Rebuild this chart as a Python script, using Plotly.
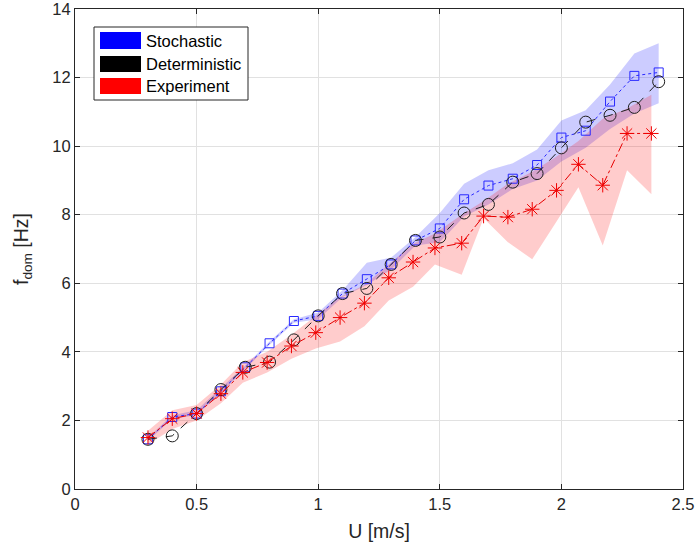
import plotly.graph_objects as go

# ---------------- data ----------------
u_model = [0.3, 0.4, 0.5, 0.6, 0.7, 0.8, 0.9, 1.0, 1.1, 1.2, 1.3, 1.4, 1.5, 1.6, 1.7, 1.8, 1.9, 2.0, 2.1, 2.2, 2.3, 2.4]
stoch_mean = [1.45, 2.1, 2.2, 2.85, 3.55, 4.25, 4.9, 5.05, 5.7, 6.12, 6.55, 7.25, 7.6, 8.45, 8.85, 9.05, 9.45, 10.25, 10.45, 11.3, 12.05, 12.15]
stoch_upper = [1.5, 2.15, 2.3, 2.95, 3.6, 4.3, 4.95, 5.15, 5.8, 6.6, 6.75, 7.35, 8.05, 8.9, 9.3, 9.5, 9.9, 10.75, 11.05, 11.8, 12.7, 13.0]
stoch_lower = [1.4, 2.05, 2.15, 2.8, 3.5, 4.2, 4.85, 4.95, 5.6, 5.95, 6.4, 7.1, 7.2, 7.95, 8.3, 8.75, 9.0, 9.55, 9.95, 10.5, 10.95, 11.25]
determ = [1.45, 1.55, 2.2, 2.9, 3.55, 3.7, 4.35, 5.05, 5.7, 5.85, 6.55, 7.25, 7.35, 8.05, 8.3, 8.95, 9.2, 9.95, 10.7, 10.9, 11.13, 11.88]

u_exp = [0.3, 0.4, 0.5, 0.6, 0.69, 0.79, 0.89, 0.99, 1.09, 1.19, 1.29, 1.39, 1.48, 1.59, 1.68, 1.78, 1.88, 1.98, 2.07, 2.17, 2.27, 2.37]
exp_mean = [1.5, 2.05, 2.2, 2.78, 3.4, 3.69, 4.17, 4.56, 5.0, 5.42, 6.16, 6.62, 7.03, 7.17, 7.96, 7.93, 8.16, 8.71, 9.47, 8.86, 10.37, 10.37]
exp_upper = [1.7, 2.3, 2.45, 3.05, 3.7, 4.0, 4.5, 5.05, 5.6, 5.95, 6.55, 7.15, 7.45, 8.0, 8.4, 8.9, 9.25, 9.7, 10.15, 10.8, 11.1, 11.5]
exp_lower = [1.3, 1.75, 2.0, 2.5, 3.1, 3.4, 3.8, 4.1, 4.3, 4.75, 5.5, 5.9, 6.55, 6.25, 7.9, 7.2, 6.7, 7.8, 8.8, 7.1, 9.3, 8.6]

x_ticks = [0, 0.5, 1, 1.5, 2, 2.5]
x_tick_labels = ["0", "0.5", "1", "1.5", "2", "2.5"]
y_ticks = [0, 2, 4, 6, 8, 10, 12, 14]
y_tick_labels = ["0", "2", "4", "6", "8", "10", "12", "14"]

legend_names = ["Stochastic", "Deterministic", "Experiment"]
legend_colors = ["#0000ff", "#000000", "#ff0000"]

FONT = "Liberation Sans, Arial, sans-serif"
AXCOL = "rgb(38,38,38)"

fig = go.Figure()

# bands
fig.add_trace(go.Scatter(
    x=u_model + u_model[::-1], y=stoch_upper + stoch_lower[::-1],
    fill="toself", fillcolor="rgba(0,0,255,0.2)", line=dict(width=0),
    mode="lines", hoverinfo="skip", showlegend=False))
fig.add_trace(go.Scatter(
    x=u_exp + u_exp[::-1], y=exp_upper + exp_lower[::-1],
    fill="toself", fillcolor="rgba(255,0,0,0.2)", line=dict(width=0),
    mode="lines", hoverinfo="skip", showlegend=False))

# lines + markers
fig.add_trace(go.Scatter(
    x=u_model, y=stoch_mean, mode="lines+markers",
    line=dict(color="rgb(40,40,255)", width=1, dash="dot"),
    marker=dict(symbol="square-open", size=9, color="rgb(40,40,255)", line=dict(width=1)),
    showlegend=False))
fig.add_trace(go.Scatter(
    x=u_model, y=determ, mode="lines+markers",
    line=dict(color="rgb(30,30,30)", width=1, dash="dash"),
    marker=dict(symbol="circle-open", size=12, color="rgb(30,30,30)", line=dict(width=1)),
    showlegend=False))
fig.add_trace(go.Scatter(
    x=u_exp, y=exp_mean, mode="lines+markers",
    line=dict(color="rgb(230,0,0)", width=1, dash="dashdot"),
    marker=dict(symbol="asterisk-open", size=12, color="rgb(240,0,0)", line=dict(width=1, color="rgb(240,0,0)")),
    showlegend=False))

# manual MATLAB-style legend (paper coordinates; plot area 75..683 x 9..489 px)
def py(v):
    return (489 - v) / 480.0

def px(v):
    return (v - 75) / 608.0

shapes = [dict(type="rect", xref="paper", yref="paper", x0=px(94), x1=px(248), y0=py(100), y1=py(27),
               line=dict(color=AXCOL, width=1), fillcolor="white", layer="above")]
patch_rows = [(32, 49), (56, 72), (78, 94)]
annotations = []
for name, col, (top, bot) in zip(legend_names, legend_colors, patch_rows):
    shapes.append(dict(type="rect", xref="paper", yref="paper", x0=px(100), x1=px(141), y0=py(bot), y1=py(top),
                       line=dict(width=0), fillcolor=col, layer="above"))
    annotations.append(dict(xref="paper", yref="paper", x=px(143.5), y=py((top + bot) / 2.0), text=name,
                            showarrow=False, xanchor="left", yanchor="middle",
                            font=dict(family=FONT, size=16.5, color="black")))

axis_common = dict(showline=True, linecolor=AXCOL, linewidth=1, mirror="ticks",
                   ticks="inside", ticklen=5, tickcolor=AXCOL,
                   showgrid=True, gridcolor="rgb(225,225,225)", gridwidth=1, zeroline=False,
                   ticklabeloverflow="allow", automargin=False,
                   tickfont=dict(family=FONT, size=16.5, color=AXCOL))

fig.update_layout(
    width=698, height=552,
    margin=dict(l=75, r=15, t=9, b=63, autoexpand=False),
    paper_bgcolor="white", plot_bgcolor="white",
    showlegend=False,
    shapes=shapes, annotations=annotations,
    xaxis=dict(range=[0, 2.5], tickvals=x_ticks, ticktext=x_tick_labels,
               title=dict(text="U [m/s]", font=dict(family=FONT, size=19.5, color=AXCOL), standoff=12),
               **axis_common),
    yaxis=dict(range=[0, 14], tickvals=y_ticks, ticktext=y_tick_labels,
               title=dict(text="f<sub>dom</sub> [Hz]", font=dict(family=FONT, size=19.5, color=AXCOL), standoff=18),
               **axis_common),
)

fig.write_html("out.html")
